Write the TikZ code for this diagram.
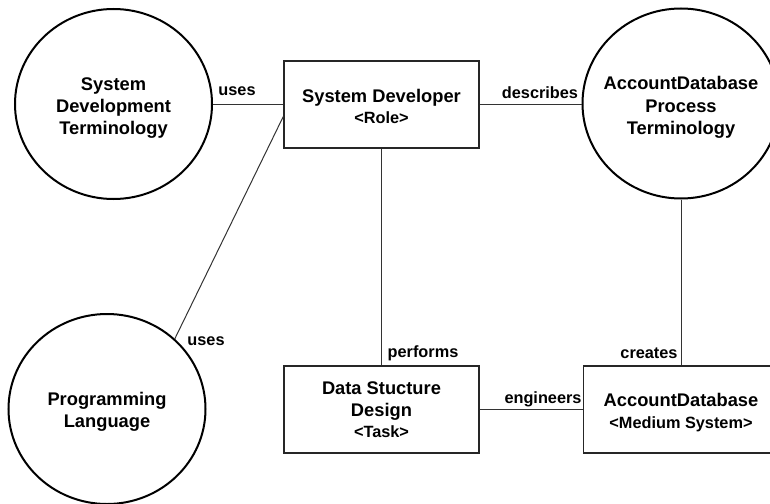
\documentclass[tikz,border=0pt]{standalone}
\usepackage{fontspec}
\setmainfont{Liberation Sans}
\usetikzlibrary{shapes.geometric}
\tikzset{
  term/.style={ellipse, draw=black, line width=2pt, minimum width=197pt, minimum height=190pt,
    inner sep=0pt},
  thing/.style={rectangle, draw=black!85, line width=1.4pt, minimum width=195pt, minimum height=87pt,
    inner sep=0pt},
  caption/.style={align=center, inner sep=0pt, font=\fontsize{18.3}{22.3}\selectfont\bfseries},
  small/.style={font=\fontsize{16.3}{20}\selectfont\bfseries},
  link/.style={draw=black!80, line width=1pt},
  lbl/.style={inner sep=0pt, font=\fontsize{16.3}{19}\selectfont\bfseries}
}
\newcommand{\subline}[1]{{\fontsize{16.3}{20}\selectfont #1}}
\begin{document}
\begin{tikzpicture}[x=1pt, y=-1pt]
\useasboundingbox (0,0) rectangle (770,503);
\begin{scope}
\clip (0,0) rectangle (770,503);
% concepts
\node[term, label={[caption, yshift=-4pt]center:System\\Development\\Terminology}] (sdt) at (113.5,104) {};
\node[term, label={[caption, yshift=-4pt]center:AccountDatabase\\Process\\Terminology}] (apt) at (681,103.5) {};
\node[term, label={[caption, yshift=-3pt]center:Programming\\Language}] (pl) at (107,409) {};
% role, task and product
\node[thing, label={[caption, yshift=-2pt]center:System Developer\\[-1pt]\subline{<Role>}}] (dev) at (381.5,104.5) {};
\node[thing, label={[caption]center:Data Stucture\\Design\\[-1pt]\subline{<Task>}}] (dsd) at (381.5,409.5) {};
\node[thing, label={[caption, yshift=-3pt]center:AccountDatabase\\[-1pt]\subline{<Medium System>}}] (adb) at (681,409.5) {};
% relations
\draw[link] (sdt.east) -- (sdt.east -| dev.west);
\draw[link] (dev.east) -- (dev.east -| apt.west);
\draw[link] (dev.south) -- (dsd.north);
\draw[link] (apt.south) -- (adb.north);
\draw[link] (dsd.east) -- (adb.west);
\draw[link] ([yshift=-12pt]dev.west) -- (pl.46);
% relation names
\node[lbl] (l1) at (237,91) {uses};
\node[lbl] (l2) at (540,93) {describes};
\node[lbl] (l3) at (206,341) {uses};
\node[lbl] (l4) at (423,353) {performs};
\node[lbl] (l5) at (649,353) {creates};
\node[lbl] (l6) at (543,399) {engineers};
\end{scope}
\end{tikzpicture}
\end{document}
